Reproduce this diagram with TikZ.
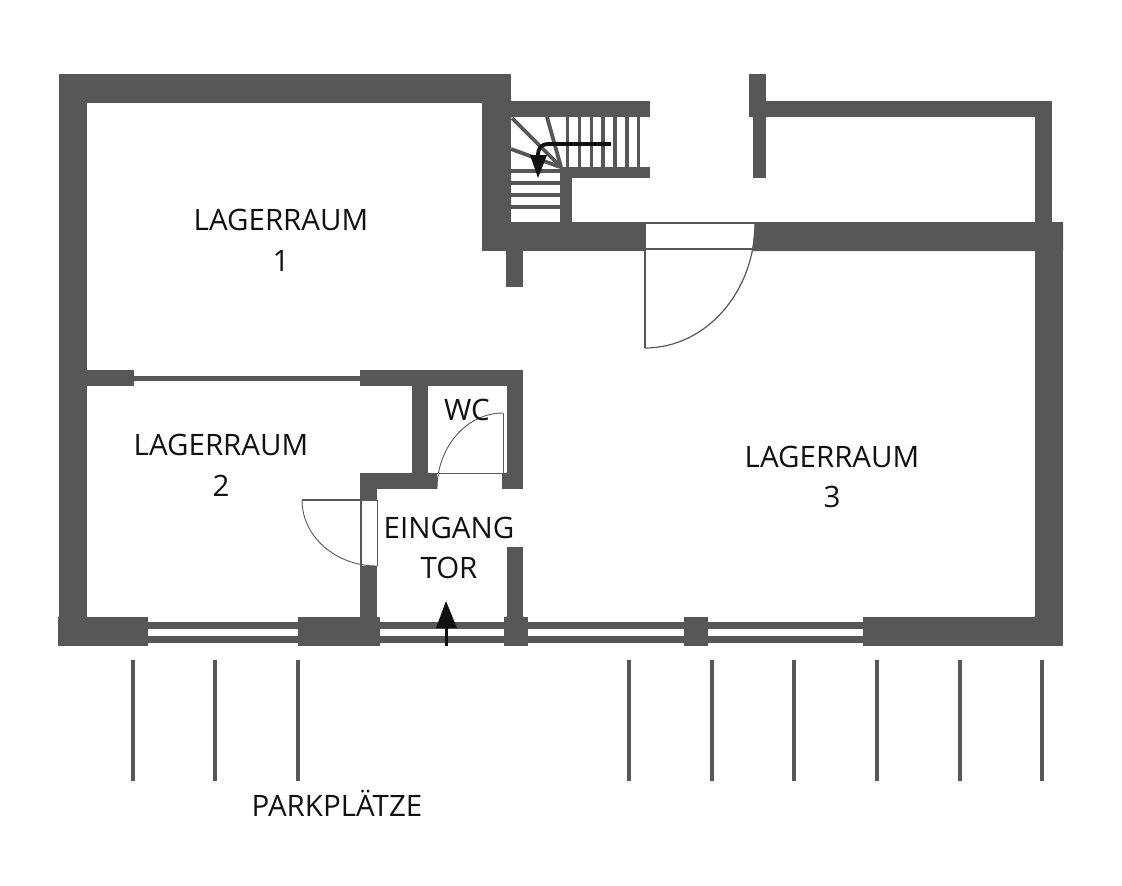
\documentclass[tikz,border=0pt]{standalone}
\usepackage{fontspec}
\setmainfont{Open Sans}
\definecolor{wall}{HTML}{575756}
\definecolor{ink}{HTML}{111111}
\tikzset{
  wallfill/.style={fill=wall,draw=none},
  thin line/.style={draw=wall,line width=1.2pt},
  tread/.style={draw=wall,line width=3.8pt},
  bay/.style={draw=wall,line width=4pt},
  label/.style={font=\fontsize{29.5}{32}\selectfont,text=ink,inner sep=0pt,anchor=center},
}
\begin{document}
\begin{tikzpicture}[x=1pt,y=-1pt]
\useasboundingbox (0,0) rectangle (1122,886);
% outer walls
\path[wallfill] (59,74) rectangle (511,103);
\path[wallfill] (59,74) rectangle (87,646);
\path[wallfill] (482,74) rectangle (511,251);
\path[wallfill] (482,222) rectangle (645,251);
\path[wallfill] (755,222) -- (1063,222) -- (1063,251) -- (752.4,251) -- cycle;
\path[wallfill] (1035,222) rectangle (1063,646);
\path[wallfill] (506,251) rectangle (523,287);
% stair walls
\path[wallfill] (511,101) rectangle (650,117);
\path[wallfill] (560,167) rectangle (650,178);
\path[wallfill] (560,167) rectangle (572,222);
% upper right
\path[wallfill] (749,74) rectangle (766,117);
\path[wallfill] (749,101) rectangle (1052,117);
\path[wallfill] (753,117) rectangle (766,178);
\path[wallfill] (1035,101) rectangle (1052,222);
% bottom wall blocks
\path[wallfill] (58,617) rectangle (148,646);
\path[wallfill] (298,617) rectangle (380,646);
\path[wallfill] (504,617) rectangle (528,646);
\path[wallfill] (684,617) rectangle (708,646);
\path[wallfill] (863,617) rectangle (1063,646);
% windows
\foreach \a/\b in {148/298,380/504,528/684,708/863}{
  \path[wallfill] (\a,622) rectangle (\b,629);
  \path[wallfill] (\a,636) rectangle (\b,643);
}
% interior walls
\path[wallfill] (87,370) rectangle (134,386);
\path[wallfill] (134,376) rectangle (360,381);
\path[wallfill] (360,370) rectangle (523,386);
\path[wallfill] (412,386) rectangle (428,473);
\path[wallfill] (507,386) rectangle (523,489);
\path[wallfill] (360,473) rectangle (437,489);
\path[wallfill] (502,473) rectangle (507,489);
\path[wallfill] (360,473) rectangle (377,500);
\path[wallfill] (360,566) rectangle (377,617);
\path[wallfill] (507,547) rectangle (523,617);
% stair treads
\foreach \x in {567.5,579.5,591.5,603,615,627,638.5}{
  \draw[tread] (\x,117) -- (\x,167);
}
\foreach \y in {171,183,195,207}{
  \draw[tread] (511,\y) -- (560,\y);
}
\draw[tread] (512,118) -- (561,167);
\draw[tread] (547,117) -- (561,167);
\draw[tread] (511,149) -- (560,167);
% stair arrow
\draw[ink,line width=3.8pt] (611,144) -- (549,144) .. controls (541,144) and (538,148) .. (538,156);
\fill[ink] (530,155) -- (547,155) -- (538,178) -- cycle;
% upper door
\draw[thin line] (645,223) -- (755,223);
\draw[thin line] (645,249) -- (752,249);
\draw[thin line] (645,222) -- (645,348);
\draw[thin line] (755,223) arc[start angle=0,end angle=-90,x radius=110,y radius=-125];
% wc door
\draw[thin line] (428,473.5) -- (507,473.5);
\draw[thin line,line width=.9pt] (503,413) -- (503,489);
\draw[thin line,line width=.9pt] (503,413) arc[start angle=90,end angle=180,x radius=66,y radius=-76];
% left door
\draw[thin line] (377,500) -- (302,500);
\draw[thin line] (361,500) -- (361,566);
\draw[thin line,line width=.6pt] (377,500) -- (377,566);
\draw[thin line,line width=.9pt] (302,500) arc[start angle=180,end angle=270,x radius=75,y radius=-66];
% entry arrow
\fill[ink] (444.5,626) rectangle (448,646);
\fill[ink] (436,628) -- (457,628) -- (446,601) -- cycle;
% parking bays
\foreach \x in {132.7,215.3,298,629,711.7,794.3,877,959.5,1042}{
  \draw[bay] (\x,660) -- (\x,781);
}
% labels
\node[label] (l1a) at (281,220) {LAGERRAUM};
\node[label] (l1b) at (281,261) {1};
\node[label] (l2a) at (221,445) {LAGERRAUM};
\node[label] (l2b) at (221,486) {2};
\node[label] (l3a) at (832,457) {LAGERRAUM};
\node[label] (l3b) at (832,497) {3};
\node[label] (wc) at (467,410) {WC};
\node[label] (ea) at (449,528) {EINGANG};
\node[label] (eb) at (449,568) {TOR};
\node[label] (pp) at (337,803) {PARKPLÄTZE};
\end{tikzpicture}
\end{document}
